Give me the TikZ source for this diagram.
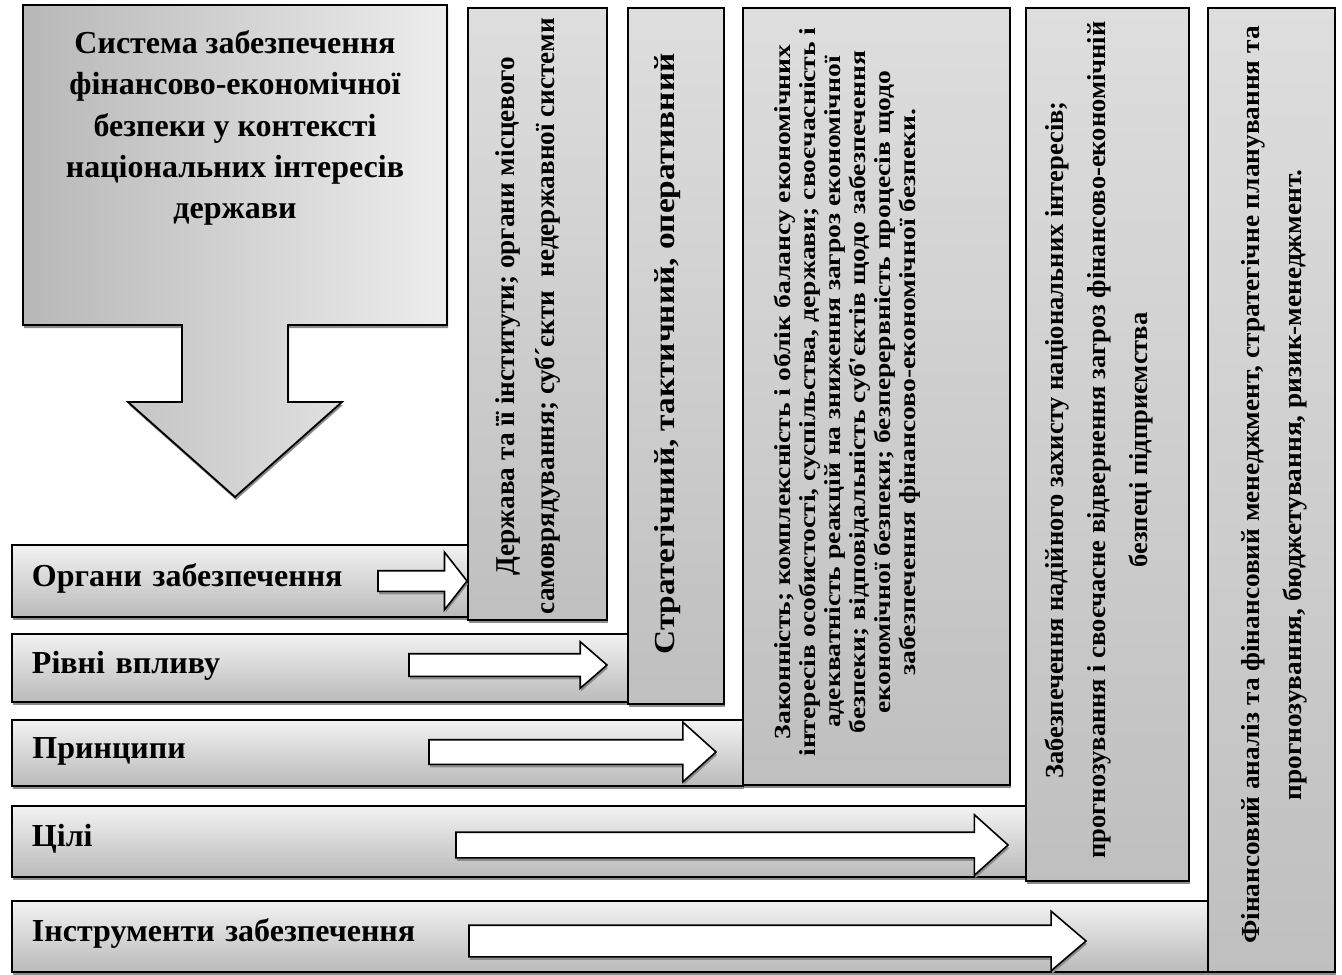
\documentclass[tikz,border=0pt]{standalone}
\usepackage{fontspec}
\setmainfont{Liberation Serif}
% розтягнуті шрифти для вертикальних написів
\newfontfamily\vshrifta[FakeStretch=1.2]{Liberation Serif}
\newfontfamily\vshriftb[FakeStretch=1.02]{Liberation Serif}
\newfontfamily\vshriftc[FakeStretch=1.15]{Liberation Serif}
\newfontfamily\vshriftd[FakeStretch=1.05]{Liberation Serif}
\usetikzlibrary{positioning,calc,shapes.arrows,shadows}
\lineskiplimit=-10pt

\begin{document}
\begin{tikzpicture}[
	x=0.5pt, y=-0.5pt,
	% --- спільні стилі ---
	every node/.style={inner sep=0pt, outer sep=0pt},
	tin/.style={drop shadow={shadow xshift=0.5pt, shadow yshift=-1.5pt, fill=black!45, opacity=1}},
	% горизонтальні смуги
	smuga/.style={draw, line width=0.9pt, tin, anchor=north west,
		top color=black!5, bottom color=black!27,
		inner xsep=10pt, align=left, text height=11pt, text depth=6pt,
		font=\fontsize{16}{19}\selectfont\bfseries},
	% вертикальні блоки
	blok/.style={draw, line width=0.9pt, tin, anchor=north west,
		top color=black!13, bottom color=black!25},
	vtekst/.style={rotate=90, align=center},
	% білі стрілки
	strilka/.style={single arrow, draw, line width=0.8pt, fill=white, tin,
		single arrow head indent=0pt, anchor=tip, inner xsep=0pt}
	]
	\useasboundingbox (0,0) rectangle (1342,974);

	% --- головний блок зі стрілкою вниз ---
	\shade[left color=black!28, right color=black!7, draw, line width=0.9pt, tin]
		(23,5) -- (447,5) -- (447,325) -- (288,325) -- (288,402) -- (342,402)
		-- (235,497) -- (128,402) -- (182,402) -- (182,325) -- (23,325) -- cycle;
	\node[align=center, font=\fontsize{16}{20.7}\selectfont\bfseries] (sys) at (235,128)
		{Система забезпечення\\фінансово-економічної\\безпеки у контексті\\національних інтересів\\держави};

	% --- смуги ---
	\node[smuga, minimum width=228pt, minimum height=36pt, text width=208pt] (r1) at (12,545) {Органи забезпечення};
	\node[smuga, minimum width=308pt, minimum height=34pt, text width=288pt] (r2) at (12,634) {Рівні впливу};
	\node[smuga, minimum width=365.5pt, minimum height=33pt, text width=345pt] (r3) at (12,720) {Принципи};
	\node[smuga, minimum width=507pt, minimum height=35.5pt, text width=487pt] (r4) at (12,806) {Цілі};
	\node[smuga, minimum width=598pt, minimum height=35.5pt, text width=578pt] (r5) at (12,901) {Інструменти забезпечення};

	% --- вертикальні блоки ---
	\node[blok, minimum width=69.5pt, minimum height=306pt] (b1) at (468,8) {};
	\node[blok, minimum width=48pt, minimum height=348pt] (b2) at (628,8) {};
	\node[blok, minimum width=133.5pt, minimum height=388.5pt] (b3) at (743,8) {};
	\node[blok, minimum width=81.5pt, minimum height=436.5pt] (b4) at (1026,8) {};
	\node[blok, minimum width=63.5pt, minimum height=482pt] (b5) at (1208,8) {};

	\node[vtekst, font=\fontsize{13.6}{20}\selectfont\bfseries] (t1) at (528,316)
		{Держава та її інститути; органи місцевого\\самоврядування; суб´єкти~~недержавної системи};
	\node[vtekst, font=\vshriftc\fontsize{14.5}{18}\selectfont\bfseries] (t2) at (668,354)
		{Стратегічний, тактичний, оперативний};
	\node[vtekst, font=\vshrifta\fontsize{11.5}{12.5}\selectfont\bfseries] (t3) at (847,392)
		{Законність; комплексність і облік балансу економічних\\
		інтересів особистості, суспільства, держави; своєчасність і\\
		адекватність реакцій на зниження загроз економічної\\
		безпеки; відповідальність суб'єктів щодо забезпечення\\
		економічної безпеки; безперервність процесів щодо\\
		забезпечення фінансово-економічної безпеки.};
	\node[vtekst, font=\vshriftb\fontsize{13}{21}\selectfont\bfseries] (t4) at (1099,440)
		{Забезпечення надійного захисту національних інтересів;\\
		прогнозування і своєчасне відвернення загроз фінансово-економічній\\
		безпеці підприємства};
	\node[vtekst, font=\vshriftd\fontsize{13}{21}\selectfont\bfseries] (t5) at (1274,485)
		{Фінансовий аналіз та фінансовий менеджмент, стратегічне планування та\\
		прогнозування, бюджетування, ризик-менеджмент.};

	% --- стрілки від смуг до блоків ---
	\node[strilka, minimum height=44.5pt, inner ysep=4.75pt, single arrow head extend=9.25pt, single arrow tip angle=104] (s1) at (467,581) {};
	\node[strilka, minimum height=99pt, inner ysep=5.25pt, single arrow head extend=6pt, single arrow tip angle=82] (s2) at (607,665) {};
	\node[strilka, minimum height=143.5pt, inner ysep=5.75pt, single arrow head extend=8.75pt, single arrow tip angle=84] (s3) at (716,752) {};
	\node[strilka, minimum height=276pt, inner ysep=6pt, single arrow head extend=8.75pt, single arrow tip angle=84] (s4) at (1008,845) {};
	\node[strilka, minimum height=308.5pt, inner ysep=7.5pt, single arrow head extend=7pt, single arrow tip angle=81] (s5) at (1086,941) {};
\end{tikzpicture}
\end{document}
